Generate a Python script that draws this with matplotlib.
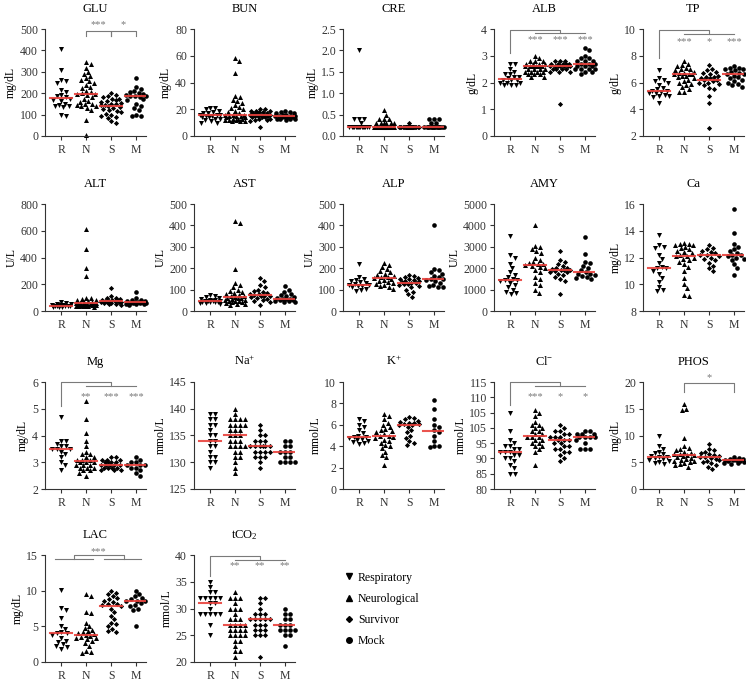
import numpy as np
import matplotlib
matplotlib.use('Agg')
import matplotlib.pyplot as plt
from matplotlib.lines import Line2D

plt.rcParams['font.family'] = ['Liberation Serif', 'DejaVu Serif']
plt.rcParams['mathtext.fontset'] = 'custom'
plt.rcParams['mathtext.rm'] = 'Liberation Serif'
plt.rcParams['mathtext.it'] = 'Liberation Serif:italic'

groups = ['R', 'N', 'S', 'M']
group_names = ['Respiratory', 'Neurological', 'Survivor', 'Mock']

# values per panel: [Respiratory, Neurological, Survivor, Mock]
glu = [
    [405, 310, 255, 260, 250, 215, 205, 190, 185, 180, 175, 170, 165, 150, 140, 145, 140, 135, 100, 95],
    [345, 335, 320, 300, 290, 280, 270, 260, 255, 250, 240, 230, 225, 210, 205, 200, 197, 195, 190, 180,
     175, 165, 160, 150, 150, 145, 140, 140, 130, 120, 75, 5],
    [200, 190, 185, 180, 175, 175, 170, 165, 160, 155, 150, 148, 145, 145, 140, 135, 130, 125, 120, 115,
     110, 105, 100, 95, 90, 85, 70, 60],
    [270, 230, 220, 210, 205, 200, 195, 190, 188, 185, 185, 180, 175, 170, 150, 140, 130, 120, 100, 95, 92],
]
bun = [
    [21, 21, 20, 19, 18, 17, 17, 16, 16, 16, 15, 15, 14, 14, 13, 13, 12, 11, 10, 10],
    [58, 56, 47, 30, 29, 27, 26, 25, 23, 22, 21, 20, 19, 18, 17, 16, 16, 16, 15, 15, 15, 14, 14, 13,
     13, 13, 12, 12, 12, 11, 11, 11],
    [20, 20, 19, 19, 19, 18, 18, 17, 17, 17, 16, 16, 16, 16, 15, 15, 15, 14, 14, 14, 13, 13, 12, 12, 11, 7],
    [19, 18, 18, 17, 17, 16, 16, 15, 15, 15, 15, 14, 14, 14, 14, 13, 13, 13, 13, 12],
]
cre = [
    [2.0, 0.4, 0.4, 0.4, 0.3] + [0.2] * 15,
    [0.6, 0.5, 0.4, 0.4, 0.4] + [0.3] * 6 + [0.2] * 24,
    [0.3] + [0.2] * 27,
    [0.4, 0.4, 0.4, 0.3, 0.3] + [0.2] * 15,
]
alb = [
    [2.7, 2.7, 2.5, 2.4, 2.3, 2.3, 2.2, 2.2, 2.15, 2.1, 2.1, 2.1, 2.0, 2.0, 2.0, 1.9, 1.9, 1.9],
    [3.0, 2.9, 2.8, 2.8, 2.8, 2.7, 2.7, 2.7, 2.7, 2.6, 2.6, 2.6, 2.6, 2.6, 2.6, 2.5, 2.5, 2.5, 2.5, 2.4,
     2.4, 2.4, 2.4, 2.3, 2.3, 2.3, 2.2, 2.2],
    [2.8, 2.8, 2.8, 2.7, 2.7, 2.7, 2.7, 2.7, 2.6, 2.6, 2.6, 2.6, 2.6, 2.6, 2.6, 2.5, 2.5, 2.5, 2.5, 2.4,
     2.4, 2.4, 1.2],
    [3.3, 3.2, 3.0, 2.9, 2.9, 2.8, 2.8, 2.8, 2.7, 2.7, 2.7, 2.6, 2.6, 2.6, 2.5, 2.5, 2.5, 2.5, 2.4, 2.4, 2.3],
]
tp = [
    [6.9, 6.3, 6.2, 6.1, 6.0, 5.8, 5.6, 5.5, 5.4, 5.4, 5.3, 5.2, 5.2, 5.1, 5.0, 5.0, 4.9, 4.5],
    [7.6, 7.4, 7.3, 7.2, 7.1, 7.0, 7.0, 6.9, 6.8, 6.7, 6.7, 6.6, 6.6, 6.6, 6.5, 6.5, 6.4, 6.3, 6.2, 6.1,
     6.0, 5.9, 5.8, 5.7, 5.5, 5.3, 5.3],
    [7.3, 7.0, 6.9, 6.8, 6.7, 6.6, 6.5, 6.4, 6.4, 6.3, 6.3, 6.2, 6.2, 6.1, 6.0, 6.0, 5.9, 5.8, 5.6, 5.5,
     5.0, 4.5, 2.6],
    [7.2, 7.1, 7.1, 7.0, 7.0, 6.9, 6.8, 6.7, 6.6, 6.6, 6.5, 6.4, 6.3, 6.2, 6.1, 6.0, 5.9, 5.8, 5.7],
]
alt = [
    [65, 60, 55, 50, 48, 45, 42, 40, 40, 38, 36, 35, 33, 30, 28],
    [610, 460, 320, 260, 100, 95, 90, 85, 80, 75, 70, 65, 62, 60, 58, 55, 55, 52, 50, 50, 48, 45, 45,
     42, 40, 40, 38, 35, 35, 30],
    [170, 110, 100, 95, 90, 85, 82, 80, 78, 75, 72, 70, 70, 68, 65, 62, 60, 55, 50, 45],
    [145, 95, 85, 80, 75, 72, 70, 68, 65, 62, 60, 60, 58, 55, 52, 50, 48],
]
ast = [
    [75, 70, 65, 60, 55, 52, 50, 48, 46, 45, 45, 44, 42, 40, 40, 38, 36, 35],
    [420, 410, 195, 130, 120, 110, 100, 95, 90, 85, 80, 75, 70, 70, 65, 63, 60, 60, 55, 50, 50, 48, 45,
     45, 42, 40, 38, 35, 33, 30],
    [155, 140, 120, 110, 100, 95, 90, 85, 80, 78, 75, 72, 70, 68, 65, 60, 55, 50, 45, 40, 30],
    [115, 100, 90, 80, 75, 70, 65, 60, 58, 57, 55, 52, 50, 48, 45, 42, 40],
]
alp = [
    [220, 160, 150, 145, 140, 135, 130, 125, 122, 120, 118, 115, 110, 105, 100, 95],
    [225, 215, 205, 195, 185, 180, 175, 170, 165, 160, 158, 155, 150, 145, 140, 135, 130, 125, 120, 115,
     110, 105],
    [170, 165, 160, 155, 150, 148, 145, 140, 138, 135, 132, 130, 128, 125, 120, 115, 110, 100, 90, 80, 65],
    [400, 195, 190, 180, 175, 165, 160, 150, 148, 145, 140, 130, 120, 115, 110, 110],
]
amy = [
    [3500, 2600, 2500, 2200, 2000, 1800, 1700, 1600, 1500, 1450, 1430, 1400, 1300, 1200, 1100, 1000,
     900, 850, 800],
    [4000, 3050, 3000, 2900, 2800, 2700, 2500, 2400, 2300, 2250, 2200, 2180, 2150, 2100, 2050, 2000,
     1900, 1800, 1600, 1500, 1300, 1200, 1000, 850],
    [2800, 2400, 2300, 2200, 2100, 2000, 2000, 1950, 1900, 1900, 1900, 1850, 1800, 1800, 1750, 1700,
     1600, 1500, 1400, 800],
    [3450, 2650, 2300, 2250, 2100, 2000, 1900, 1800, 1750, 1750, 1700, 1650, 1600, 1550, 1500],
]
ca = [
    [13.7, 12.9, 12.8, 12.7, 12.2, 11.9, 11.6, 11.3, 11.25, 11.2, 11.0, 10.8, 10.5, 10.2, 9.8, 9.6, 9.5],
    [13.1, 13.0, 13.0, 12.9, 12.9, 12.8, 12.7, 12.6, 12.5, 12.4, 12.3, 12.2, 12.1, 12.1, 12.0, 11.9,
     11.8, 11.7, 11.5, 11.3, 11.0, 10.5, 10.0, 9.7, 9.2, 9.1],
    [12.9, 12.7, 12.6, 12.5, 12.4, 12.3, 12.2, 12.2, 12.1, 12.0, 11.9, 11.8, 11.6, 11.4, 11.2, 11.0],
    [15.6, 13.8, 13.0, 12.8, 12.6, 12.5, 12.3, 12.2, 12.2, 12.1, 12.0, 11.9, 11.8, 11.5, 11.2, 10.7],
]
mg = [
    [4.7, 3.8, 3.8, 3.7, 3.6, 3.6, 3.5, 3.5, 3.5, 3.4, 3.3, 3.2, 3.0, 2.9, 2.7],
    [5.3, 4.6, 4.1, 3.8, 3.6, 3.4, 3.3, 3.3, 3.2, 3.2, 3.1, 3.1, 3.1, 3.0, 3.0, 3.0, 2.9, 2.9, 2.9, 2.8,
     2.8, 2.8, 2.7, 2.7, 2.6, 2.5],
    [3.2, 3.2, 3.1, 3.1, 3.1, 3.0, 3.0, 3.0, 3.0, 2.9, 2.9, 2.9, 2.9, 2.9, 2.8, 2.8, 2.8, 2.8, 2.7, 2.7, 2.7],
    [3.2, 3.1, 3.0, 3.0, 2.9, 2.9, 2.9, 2.8, 2.8, 2.7, 2.6, 2.5],
]
na = [
    [139, 139, 138, 138, 137, 137, 136, 135, 135, 134, 134, 133, 133, 132, 131, 131, 130, 130, 129],
    [140, 139, 138, 138, 138, 138, 137, 137, 137, 137, 136, 136, 136, 135, 135, 135, 134, 134, 134, 133,
     133, 133, 133, 132, 132, 131, 131, 130, 129, 128],
    [137, 136, 135, 135, 134, 134, 134, 133, 133, 133, 133, 133, 133, 132, 132, 132, 132, 131, 131, 131,
     130, 129],
    [134, 134, 133, 133, 132, 132, 132, 131, 131, 130, 130, 130, 130],
]
k = [
    [6.5, 6.4, 6.0, 5.8, 5.5, 5.2, 5.0, 4.9, 4.9, 4.8, 4.7, 4.6, 4.5, 4.4, 4.3, 4.2],
    [7.0, 6.8, 6.5, 6.2, 6.0, 5.8, 5.6, 5.5, 5.4, 5.3, 5.1, 5.0, 5.0, 4.9, 4.8, 4.6, 4.5, 4.3, 4.1, 4.0,
     3.8, 3.5, 3.2, 3.0, 2.2],
    [6.7, 6.6, 6.5, 6.4, 6.3, 6.2, 6.2, 6.1, 6.1, 6.0, 6.0, 5.8, 5.5, 5.3, 5.0, 4.8, 4.5, 4.3, 4.1],
    [8.3, 7.5, 6.5, 6.0, 5.8, 5.5, 5.3, 5.0, 4.5, 4.0, 4.0, 3.9],
]
cl = [
    [105, 99, 96, 95, 94, 94, 93, 93, 92, 92, 92, 91, 91, 90, 90, 89, 88, 87, 85, 85],
    [106, 105, 104, 102, 101, 101, 100, 100, 99, 99, 98, 98, 97, 97, 97, 96, 96, 95, 95, 94, 94, 93, 92, 88],
    [101, 100, 99, 99, 98, 98, 97, 97, 97, 96, 96, 96, 95, 95, 94, 94, 93, 93, 92, 92, 91, 90, 89],
    [99, 99, 98, 98, 98, 97, 97, 97, 97, 96, 95, 93, 93, 93],
]
phos = [
    [10.0, 8.0, 7.5, 7.0, 6.8, 6.5, 6.2, 6.0, 6.0, 5.8, 5.6, 5.5, 5.3, 5.0, 4.8, 4.6],
    [15.8, 15.0, 14.7, 9.6, 8.0, 7.6, 7.5, 7.3, 7.0, 6.8, 6.6, 6.5, 6.4, 6.3, 6.2, 6.0, 5.8, 5.6, 5.5,
     5.3, 5.2, 5.0, 4.8, 4.6, 4.5, 4.2],
    [8.5, 7.5, 7.2, 7.0, 6.8, 6.5, 6.3, 6.2, 6.0, 5.9, 5.8, 5.6, 5.5, 5.3, 5.0, 4.8, 4.5, 4.2, 3.8],
    [6.0, 5.8, 5.7, 5.6, 5.5, 5.4, 5.4, 5.3, 5.2, 5.0, 4.9, 4.8, 4.7],
]
lac = [
    [10.1, 7.6, 7.3, 6.2, 5.0, 4.6, 4.2, 4.0, 4.0, 3.8, 3.3, 3.0, 2.8, 2.5, 2.2, 2.1, 1.8],
    [9.5, 9.2, 7.0, 6.8, 5.5, 5.0, 4.8, 4.5, 4.3, 4.2, 4.0, 3.9, 3.8, 3.6, 3.5, 3.4, 3.3, 3.2, 3.0, 2.6,
     2.2, 1.5, 1.4, 1.3],
    [10.0, 9.7, 9.5, 9.2, 9.0, 8.8, 8.6, 8.4, 8.2, 8.1, 8.0, 7.8, 7.5, 7.0, 6.5, 6.0, 5.5, 5.3, 5.0,
     4.6, 4.3, 4.2],
    [10.0, 9.5, 9.2, 9.0, 8.8, 8.6, 8.5, 8.5, 8.3, 8.0, 7.8, 7.5, 7.3, 5.0],
]
tco2 = [
    [35, 34, 33, 33, 32, 32, 32, 32, 32, 31, 31, 30, 29, 29, 29, 29, 29, 27, 25],
    [33, 32, 32, 32, 31, 30, 30, 30, 29, 28, 28, 28, 27, 27, 27, 27, 26, 26, 26, 26, 25, 25, 25, 25,
     24, 24, 23, 22, 22, 21],
    [32, 32, 31, 30, 29, 29, 29, 28, 28, 28, 28, 28, 27, 27, 27, 26, 26, 26, 25, 25, 25, 21],
    [30, 29, 29, 28, 28, 27, 27, 27, 26, 26, 26, 26, 25, 25, 23],
]

titles = ['GLU', 'BUN', 'CRE', 'ALB', 'TP', 'ALT', 'AST', 'ALP', 'AMY', 'Ca',
          'Mg', 'Na$^{+}$', 'K$^{+}$', 'Cl$^{-}$', 'PHOS', 'LAC', 'tCO$_{2}$']
units = ['mg/dL', 'mg/dL', 'mg/dL', 'g/dL', 'g/dL', 'U/L', 'U/L', 'U/L', 'U/L', 'mg/dL',
         'mg/dL', 'mmol/L', 'mmol/L', 'mmol/L', 'mg/dL', 'mg/dL', 'mmol/L']
yticks = [
    [0, 100, 200, 300, 400, 500], [0, 20, 40, 60, 80], [0, 0.5, 1.0, 1.5, 2.0, 2.5],
    [0, 1, 2, 3, 4], [2, 4, 6, 8, 10], [0, 200, 400, 600, 800], [0, 100, 200, 300, 400, 500],
    [0, 100, 200, 300, 400, 500], [0, 1000, 2000, 3000, 4000, 5000], [8, 10, 12, 14, 16],
    [2, 3, 4, 5, 6], [125, 130, 135, 140, 145], [0, 2, 4, 6, 8, 10],
    [80, 85, 90, 95, 100, 105, 110, 115], [0, 5, 10, 15, 20], [0, 5, 10, 15], [20, 25, 30, 35, 40],
]
ytick_labels = [None, None, ['0.0', '0.5', '1.0', '1.5', '2.0', '2.5'], None, None, None, None, None,
                None, None, None, None, None,
                ['80', '85', '90', '95', '105', '105', '110', '115'], None, None, None]
panel_data = [glu, bun, cre, alb, tp, alt, ast, alp, amy, ca, mg, na, k, cl, phos, lac, tco2]

markers = ['v', '^', 'D', 'o']
msizes = [13, 13, 7, 11]

W, H = 746, 682
col_left = [45, 194, 343, 494, 643]
row_top = [29, 204, 382, 555]
AW, AH = 101, 107
XLIM = (-0.65, 3.4)
UNIT_PX = AW / (XLIM[1] - XLIM[0])
GREY = '#7a7a7a'


def swarm(values, ylim, d=4.6, maxw=0.42):
    vals = np.asarray(values, float)
    ypx = (vals - ylim[0]) / (ylim[1] - ylim[0]) * AH
    order = np.argsort(-vals, kind='stable')
    lim = maxw * UNIT_PX
    cands = [0.0]
    s = 0.5
    while s <= lim:
        cands += [s, -s]
        s += 0.5
    cands = np.array(cands)
    px, py = [], []
    offs = np.zeros(len(vals))
    for i in order:
        y = ypx[i]
        c = 0.0
        if px:
            ax_ = np.array(px)
            ay_ = np.array(py)
            near = np.abs(ay_ - y) < d
            if near.any():
                dist = np.sqrt((cands[:, None] - ax_[near][None, :]) ** 2 + (y - ay_[near][None, :]) ** 2)
                mind = dist.min(axis=1)
                ok = np.where(mind >= d)[0]
                c = cands[ok[0]] if len(ok) else cands[np.argmax(mind)]
        offs[i] = c
        px.append(c)
        py.append(y)
    return offs / UNIT_PX


def ref_bracket(ax, y0, ytop, y2, ystar, stars):
    kw = dict(color=GREY, lw=0.8, clip_on=False)
    ax.plot([0, 0, 2, 2], [y0, ytop, ytop, y2], **kw)
    ax.plot([1, 3], [y2, y2], **kw)
    for xi, st in zip([1, 2, 3], stars):
        ax.text(xi, ystar, st, ha='center', va='center', fontsize=7.5, color=GREY)


def pair_bracket(ax, x1, x2, y, h, st, ystar):
    ax.plot([x1, x1, x2, x2], [y - h, y, y, y - h], color=GREY, lw=0.8, clip_on=False)
    ax.text((x1 + x2) / 2, ystar, st, ha='center', va='center', fontsize=7.5, color=GREY)


fig = plt.figure(figsize=(W / 100, H / 100), dpi=100)
axes = []
for p, vals in enumerate(panel_data):
    r, c = divmod(p, 5)
    ax = fig.add_axes([col_left[c] / W, 1 - (row_top[r] + AH) / H, AW / W, AH / H])
    axes.append(ax)
    ylim = (yticks[p][0], yticks[p][-1])
    for g, gv in enumerate(vals):
        xo = swarm(gv, ylim)
        ax.scatter(g + xo, gv, marker=markers[g], s=msizes[g], color='black', linewidths=0, zorder=2,
                   clip_on=False)
        med = np.median(gv)
        ax.plot([g - 0.44, g + 0.44], [med, med], color='#e8413c', lw=1.5, zorder=3, alpha=0.9)
    ax.set_xlim(*XLIM)
    ax.set_ylim(*ylim)
    ax.set_xticks(range(4))
    ax.set_xticklabels(groups)
    ax.set_yticks(yticks[p])
    if ytick_labels[p] is not None:
        ax.set_yticklabels(ytick_labels[p])
    ax.set_title(titles[p], fontsize=9, pad=12)
    ax.set_ylabel(units[p], fontsize=8.5, labelpad=2)
    for sp in ['top', 'right']:
        ax.spines[sp].set_visible(False)
    for sp in ['left', 'bottom']:
        ax.spines[sp].set_linewidth(0.8)
        ax.spines[sp].set_color('#333333')
    ax.tick_params(labelsize=8.5, length=3, width=0.8, colors='#333333', pad=2)
    ax.tick_params(axis='x', pad=3)

# significance marks
pair_bracket(axes[0], 1, 2, 490, 25, '***', 520)
pair_bracket(axes[0], 2, 3, 490, 25, '*', 520)
ref_bracket(axes[3], 3.1, 3.97, 3.85, 3.6, ['***', '***', '***'])
ref_bracket(axes[4], 7.8, 9.9, 9.6, 9.05, ['***', '*', '***'])
ref_bracket(axes[10], 5.1, 6.0, 5.85, 5.45, ['**', '***', '***'])
ref_bracket(axes[13], 107.5, 115, 113.6, 110.3, ['***', '*', '*'])
pair_bracket(axes[14], 1, 3, 19.8, 1.6, '*', 20.9)
ax = axes[15]
kw = dict(color=GREY, lw=0.8, clip_on=False)
ax.plot([-0.25, 1.27], [14.4, 14.4], **kw)
ax.plot([1.73, 3.2], [14.4, 14.4], **kw)
ax.plot([0.5, 0.5, 2.5, 2.5], [14.4, 15.0, 15.0, 14.4], **kw)
ax.text(1.5, 15.5, '***', ha='center', va='center', fontsize=7.5, color=GREY)
ref_bracket(axes[16], 36.0, 39.8, 39.0, 38.0, ['**', '**', '**'])

handles = [Line2D([], [], marker=m, ls='', color='black', ms=4 if m != 'D' else 3) for m in markers]
fig.legend(handles, group_names, loc='upper left', bbox_to_anchor=(332 / W, 1 - 561 / H), frameon=False,
           fontsize=8.5, handletextpad=0.3, labelspacing=0.78, handlelength=1.0)

fig.savefig('out.png', dpi=100)
